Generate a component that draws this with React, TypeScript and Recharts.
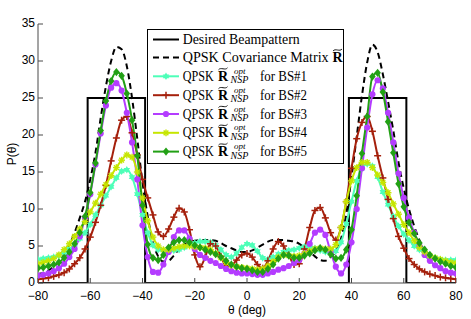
import React from 'react';
import { LineChart, Line, XAxis, YAxis, Legend, Label } from 'recharts';

const ANGLES = [-80,-78,-76,-74,-72,-70,-68,-66,-64,-62,-60,-58,-56,-54,-52,-50,-48,-46,-44,-42,-40,-38,-36,-34,-32,-30,-28,-26,-24,-22,-20,-18,-16,-14,-12,-10,-8,-6,-4,-2,0,2,4,6,8,10,12,14,16,18,20,22,24,26,28,30,32,34,36,38,40,42,44,46,48,50,52,54,56,58,60,62,64,66,68,70,72,74,76,78,80];
const X_TICKS = [-80,-60,-40,-20,0,20,40,60,80];
const Y_TICKS = [0,5,10,15,20,25,30,35];

const DESIRED_ANGLES = [-80,-61,-61,-39,-39,39,39,61,61,80];
const DESIRED_VALUES = [0,0,25,25,0,0,25,25,0,0];

const COV = [1.2,1.4,1.7,2.2,2.9,3.8,5.1,6.8,8.8,11.0, 14.0,17.6,22.3,26.6,30.0,31.9,31.6,29.3,25.0,19.5, 13.6,9.0,5.5,3.6,2.9,3.0,3.7,4.6,5.2,5.5, 5.7,5.8,5.8,5.8,5.7,5.4,5.0,4.7,4.4,4.2, 4.2, 4.4,4.8,5.2,5.6,5.8,5.8,5.8,5.7,5.6,5.3, 4.8,4.2,3.6,3.1,3.0,3.5,4.3,6.0,9.3,14.3, 19.8,25.3,29.8,32.2,31.2,28.2,24.5,20.6,16.3,12.8, 10.0,7.7,5.8,4.3,3.2,2.5,2.0,1.6,1.3,1.1];
const BS1 = [3.2,3.3,3.4,3.5,3.7,4.1,4.6,5.2,6.0,6.8, 7.9,9.2,10.5,11.8,13.0,14.2,15.1,15.3,14.3,12.0, 9.2,6.8,5.1,4.5,4.4,4.4,4.4,4.5,4.8,5.1, 5.4,5.6,5.6,5.5,5.1,4.5,3.8,3.5,4.0,4.8, 5.3, 5.1,4.3,3.4,3.2,3.5,3.9,4.2,4.4,4.5,4.7, 4.9,4.9,4.7,4.4,4.2,4.0,4.3,5.5,8.0,11.0, 13.8,15.5,16.1,15.8,14.3,12.3,10.6,9.0,7.7,6.6, 5.8,5.0,4.5,4.0,3.6,3.4,3.2,3.1,3.1,3.1];
const BS2 = [0.5,0.6,0.7,0.9,1.1,1.4,1.9,2.6,3.4,4.6, 6.2,8.2,10.5,13.2,16.5,19.6,22.0,22.5,20.3,17.3, 14.0,11.5,9.2,6.9,6.3,7.3,8.9,10.1,9.6,7.2, 3.8,2.2,3.5,5.3,5.0,3.6,2.3,2.4,3.1,3.8, 4.0, 3.5,2.5,2.0,3.0,4.6,5.6,5.0,3.8,2.5,2.6, 4.6,7.5,9.8,10.2,8.8,6.8,5.8,7.5,11.0,15.5, 19.5,21.7,22.5,20.5,17.2,14.2,11.3,8.7,6.3,4.7, 3.3,2.5,1.9,1.5,1.2,1.0,0.8,0.7,0.6,0.5];
const BS3 = [1.0,1.1,1.3,1.6,2.0,2.6,3.5,4.6,6.3,8.8, 12.0,16.0,20.2,24.0,26.4,27.0,26.0,23.0,19.0,14.0, 7.8,3.5,1.5,1.4,2.5,4.2,6.2,7.1,7.1,6.0, 4.6,3.8,3.4,3.0,2.7,2.3,1.9,1.6,1.4,1.3, 1.3, 1.2,1.1,1.1,1.3,1.5,1.8,2.0,2.3,2.7,3.1, 4.0,5.3,6.8,7.2,6.5,4.2,2.2,1.3,2.5,5.5, 10.0,15.5,21.0,25.5,27.4,26.3,23.0,19.0,14.8,11.5, 8.8,6.8,5.0,3.8,3.0,2.4,2.0,1.6,1.4,1.3];
const BS4 = [2.6,2.8,3.0,3.3,3.8,4.5,5.3,6.3,7.3,8.3, 9.6,10.8,12.0,13.3,14.5,15.6,16.6,17.3,17.0,15.0, 11.5,8.4,6.2,5.0,4.5,4.5,4.7,4.9,5.0,5.0, 4.9,4.8,4.7,4.5,4.0,3.4,2.8,2.4,2.2,2.1, 2.0, 1.9,1.8,1.9,2.3,2.9,3.5,3.8,3.7,3.6,3.7, 4.0,4.3,4.6,4.7,4.6,4.6,5.2,7.5,11.0,13.8, 15.6,16.3,16.3,15.6,14.6,13.6,12.2,10.7,9.3,7.9, 6.8,5.7,4.8,4.2,3.7,3.4,3.2,3.0,2.8,2.7];
const BS5 = [2.0,2.1,2.3,2.5,2.8,3.4,4.2,5.3,6.8,9.0, 12.2,16.2,20.6,24.6,27.3,28.5,28.0,25.6,22.0,17.2, 10.5,5.2,3.4,3.1,3.8,4.8,5.5,5.8,5.8,5.5, 5.1,4.8,4.5,4.2,3.9,3.5,3.0,2.5,2.2,2.0, 1.9, 1.7,1.5,1.5,1.9,2.5,3.3,3.8,3.7,3.4,3.4, 3.7,4.0,4.4,4.7,4.5,3.9,3.3,3.4,4.5,7.2, 11.8,17.5,22.5,27.9,28.4,25.8,21.8,17.6,13.4,10.3, 8.2,6.7,5.4,4.5,3.8,3.3,2.9,2.6,2.3,2.1];

type Shape = 'hex' | 'plus' | 'circle' | 'ast' | 'diamond';

const SERIES: { id: string; label: string; values: number[]; color: string; shape: Shape }[] = [
  { id: 'bs1', label: 'BS#1', values: BS1, color: '#4dffb8', shape: 'hex' },
  { id: 'bs2', label: 'BS#2', values: BS2, color: '#a5200c', shape: 'plus' },
  { id: 'bs3', label: 'BS#3', values: BS3, color: '#b43cff', shape: 'circle' },
  { id: 'bs4', label: 'BS#4', values: BS4, color: '#c6e600', shape: 'ast' },
  { id: 'bs5', label: 'BS#5', values: BS5, color: '#22a015', shape: 'diamond' },
];

const toPoints = (xs: number[], ys: number[]) => xs.map((x, i) => ({ x, y: ys[i] }));

const SANS = "'Liberation Sans', Arial, Helvetica, sans-serif";
const SERIF = "'Liberation Serif', 'Times New Roman', serif";

function Marker({ shape, cx, cy, color }: { shape: Shape; cx: number; cy: number; color: string }) {
  if (shape === 'hex') {
    const r = 3.8;
    const tri = (off: number) =>
      [0, 1, 2]
        .map((k) => {
          const a = ((off + k * 120) * Math.PI) / 180;
          return `${cx + r * Math.cos(a)},${cy + r * Math.sin(a)}`;
        })
        .join(' ');
    return (
      <g>
        <polygon points={tri(-90)} fill={color} />
        <polygon points={tri(90)} fill={color} />
      </g>
    );
  }
  if (shape === 'plus') {
    const r = 3.5;
    return (
      <g stroke={color} strokeWidth={1.5}>
        <line x1={cx - r} y1={cy} x2={cx + r} y2={cy} />
        <line x1={cx} y1={cy - r} x2={cx} y2={cy + r} />
      </g>
    );
  }
  if (shape === 'circle') {
    return <circle cx={cx} cy={cy} r={3.1} fill={color} />;
  }
  if (shape === 'ast') {
    const r = 3.4;
    const d = r * 0.7;
    return (
      <g stroke={color} strokeWidth={1.4}>
        <line x1={cx - r} y1={cy} x2={cx + r} y2={cy} />
        <line x1={cx} y1={cy - r} x2={cx} y2={cy + r} />
        <line x1={cx - d} y1={cy - d} x2={cx + d} y2={cy + d} />
        <line x1={cx - d} y1={cy + d} x2={cx + d} y2={cy - d} />
      </g>
    );
  }
  const r = 4.1;
  return <polygon points={`${cx},${cy - r} ${cx + r * 0.8},${cy} ${cx},${cy + r} ${cx - r * 0.8},${cy}`} fill={color} />;
}

const makeDot = (shape: Shape, color: string) => (p: any) => {
  const { cx, cy, index } = p;
  if (cx == null || cy == null) return <g key={`e${index}`} />;
  return (
    <g key={`d${index}`}>
      <Marker shape={shape} cx={cx} cy={cy} color={color} />
    </g>
  );
};

function Tilde({ cx, cy, w }: { cx: number; cy: number; w: number }) {
  const h = w / 2;
  return (
    <path
      d={`M ${cx - h} ${cy + 1} C ${cx - h / 2} ${cy - 2}, ${cx + h / 2} ${cy + 2}, ${cx + h} ${cy - 1}`}
      fill="none"
      stroke="#000"
      strokeWidth={0.9}
    />
  );
}

function LegendBox() {
  const rows = [10.5, 28.5, 47.3, 66.2, 85, 103.8, 122.6];
  const lx1 = 6;
  const lx2 = 32;
  const tx = 35.7;
  const adj = 'spacingAndGlyphs';
  return (
    <svg width={197} height={135} style={{ display: 'block' }} fontFamily={SERIF}>
      <rect x={0.5} y={0.5} width={196} height={134} fill="#fff" stroke="#000" strokeWidth={1} />
      <line x1={lx1} y1={rows[0]} x2={lx2} y2={rows[0]} stroke="#000" strokeWidth={2} />
      <text x={tx} y={rows[0] + 4.6} fontSize={14} fill="#000" textLength={117} lengthAdjust={adj}>
        Desired Beampattern
      </text>
      <line x1={lx1} y1={rows[1]} x2={lx2} y2={rows[1]} stroke="#000" strokeWidth={2} strokeDasharray="6 4" />
      <text x={tx} y={rows[1] + 4.6} fontSize={14} fill="#000" textLength={146} lengthAdjust={adj}>
        QPSK Covariance Matrix
      </text>
      <text x={185.5} y={rows[1] + 4.6} fontSize={14} fontWeight="bold" fill="#000">R</text>
      <Tilde cx={190.5} cy={rows[1] - 7.5} w={9} />
      {SERIES.map((s, i) => {
        const cy = rows[i + 2];
        const base = cy + 4.6;
        return (
          <g key={s.id}>
            <line x1={lx1} y1={cy} x2={lx2} y2={cy} stroke={s.color} strokeWidth={2} />
            <Marker shape={s.shape} cx={(lx1 + lx2) / 2} cy={cy} color={s.color} />
            <text x={tx} y={base} fontSize={14} fill="#000" textLength={31} lengthAdjust={adj}>QPSK</text>
            <text x={71} y={base} fontSize={14} fontWeight="bold" fill="#000">R</text>
            <Tilde cx={76} cy={cy - 7.5} w={9} />
            <text x={87} y={base - 7} fontSize={9} fontStyle="italic" fill="#000">opt</text>
            <text x={83.5} y={base + 2.5} fontSize={10} fontStyle="italic" fill="#000">NSP</text>
            <text x={113} y={base} fontSize={14} fill="#000" textLength={47} lengthAdjust={adj}>
              {`for ${s.label}`}
            </text>
          </g>
        );
      })}
    </svg>
  );
}

const fmt = (v: number) => (v < 0 ? '\u2212' + Math.abs(v) : String(v));

export default function App() {
  const axisColor = '#4a4a4a';
  const xTickStyle = { fontFamily: SANS, fontSize: 12, fill: '#000' };
  const yTickStyle = { fontFamily: SANS, fontSize: 12, fill: '#000', dy: -1.5 };
  return (
    <div style={{ position: 'absolute', left: 0, top: 0 }}>
      <LineChart width={471} height={319} margin={{ top: 24, right: 15, bottom: 0, left: 0 }}>
        <XAxis
          xAxisId="b"
          type="number"
          dataKey="x"
          domain={[-80, 80]}
          ticks={X_TICKS}
          orientation="bottom"
          height={36}
          tickSize={-5}
          tickMargin={13}
          tick={xTickStyle}
          tickFormatter={fmt}
          stroke={axisColor}
          allowDataOverflow
        >
          <Label
            content={() => (
              <text x={247} y={313.5} textAnchor="middle" fontFamily={SANS} fontSize={12} fill="#000">
                θ (deg)
              </text>
            )}
          />
        </XAxis>
        <XAxis
          xAxisId="t"
          type="number"
          dataKey="x"
          domain={[-80, 80]}
          ticks={X_TICKS}
          orientation="top"
          height={0}
          tickSize={-5}
          tick={false}
          stroke={axisColor}
          allowDataOverflow
        />
        <YAxis
          yAxisId="l"
          type="number"
          domain={[0, 35]}
          ticks={Y_TICKS}
          width={38}
          tickSize={-5}
          tickMargin={8}
          tick={yTickStyle}
          stroke={axisColor}
          allowDataOverflow
        >
          <Label
            content={() => (
              <text
                x={16}
                y={154}
                textAnchor="middle"
                transform="rotate(-90, 16, 154)"
                fontFamily={SANS}
                fontSize={12}
                fill="#000"
              >
                P(θ)
              </text>
            )}
          />
        </YAxis>
        <YAxis
          yAxisId="r"
          orientation="right"
          type="number"
          domain={[0, 35]}
          ticks={Y_TICKS}
          width={0}
          tickSize={-5}
          tick={false}
          stroke={axisColor}
          allowDataOverflow
        />
        <Line
          xAxisId="b"
          yAxisId="l"
          data={toPoints(DESIRED_ANGLES, DESIRED_VALUES)}
          dataKey="y"
          type="linear"
          stroke="#000"
          strokeWidth={2}
          dot={false}
          activeDot={false}
          isAnimationActive={false}
        />
        <Line
          xAxisId="b"
          yAxisId="l"
          data={toPoints(ANGLES, COV)}
          dataKey="y"
          type="monotone"
          stroke="#000"
          strokeWidth={2}
          strokeDasharray="6 4"
          dot={false}
          activeDot={false}
          isAnimationActive={false}
        />
        {SERIES.map((s) => (
          <Line
            key={s.id}
            xAxisId="b"
            yAxisId="l"
            data={toPoints(ANGLES, s.values)}
            dataKey="y"
            type="monotone"
            stroke={s.color}
            strokeWidth={2}
            dot={makeDot(s.shape, s.color)}
            activeDot={false}
            isAnimationActive={false}
          />
        ))}
        <Legend
          layout="vertical"
          verticalAlign="middle"
          align="center"
          content={() => <LegendBox />}
          wrapperStyle={{ left: 147, top: 29, width: 197, height: 135 }}
        />
      </LineChart>
    </div>
  );
}
